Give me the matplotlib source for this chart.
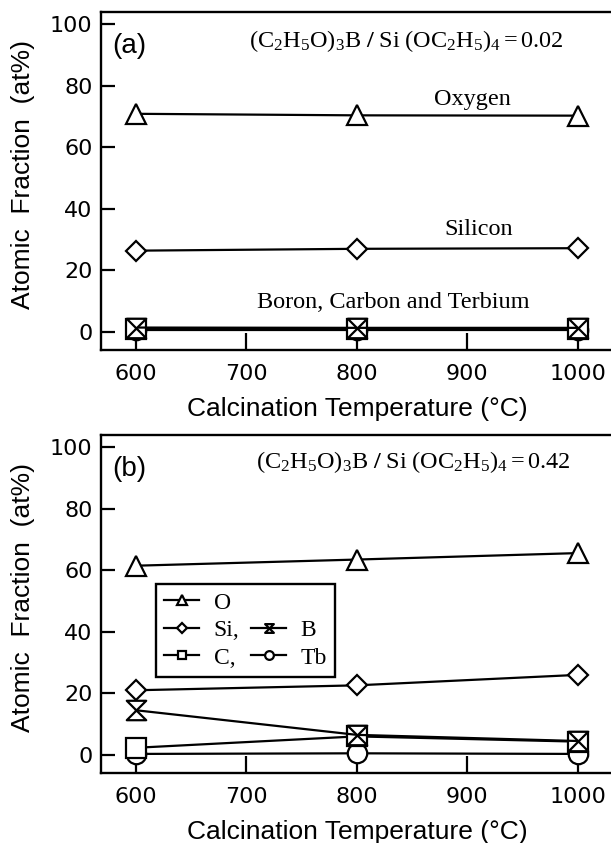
import matplotlib
matplotlib.use("Agg")
import matplotlib.pyplot as plt
from matplotlib.path import Path
from matplotlib.lines import Line2D

plt.rcParams['mathtext.fontset'] = 'custom'
plt.rcParams['mathtext.rm'] = 'Liberation Serif'
plt.rcParams['mathtext.it'] = 'Liberation Serif:italic'
plt.rcParams['mathtext.bf'] = 'Liberation Serif:bold'

# Calcination temperatures (°C)
temps = [600, 800, 1000]

# Panel (a): borate / TEOS ratio 0.02, atomic fractions (at%)
a_oxygen = [70.8, 70.3, 70.2]
a_silicon = [26.3, 26.9, 27.1]
a_boron = [1.3, 1.2, 1.2]
a_carbon = [0.9, 0.9, 0.9]
a_terbium = [0.5, 0.5, 0.5]

# Panel (b): borate / TEOS ratio 0.42, atomic fractions (at%)
b_oxygen = [61.5, 63.5, 65.6]
b_silicon = [21.0, 22.6, 26.0]
b_boron = [14.5, 6.5, 4.5]
b_carbon = [2.3, 6.0, 4.3]
b_terbium = [0.3, 0.5, 0.3]

x_ticks = [600, 700, 800, 900, 1000]
y_ticks = [0, 20, 40, 60, 80, 100]

ratio_a = r"$\mathrm{(C_2H_5O)_3B}\ \mathbf{/}\ \mathrm{Si\ (OC_2H_5)_4{=}0.02}$"
ratio_b = r"$\mathrm{(C_2H_5O)_3B}\ \mathbf{/}\ \mathrm{Si\ (OC_2H_5)_4{=}0.42}$"

# hourglass marker: two triangles meeting at the centre
hourglass = Path([(-1, 1), (1, 1), (-1, -1), (1, -1), (-1, 1)],
                 [Path.MOVETO, Path.LINETO, Path.LINETO, Path.LINETO, Path.CLOSEPOLY])

SANS = 'Liberation Sans'
SERIF = 'Liberation Serif'
W, H = 611, 843

fig = plt.figure(figsize=(W / 100, H / 100), dpi=100)

style = dict(color='k', lw=1.6, mfc='white', mec='k', mew=1.6, zorder=3, clip_on=False)


def series(ax, o, si, tb, c, b):
    lines = {}
    lines['O'] = ax.plot(temps, o, marker='^', ms=14.5, **style)[0]
    lines['Si'] = ax.plot(temps, si, marker='D', ms=10.2, **style)[0]
    lines['Tb'] = ax.plot(temps, tb, marker='o', ms=14, **style)[0]
    lines['C'] = ax.plot(temps, c, marker='s', ms=14, **style)[0]
    lines['B'] = ax.plot(temps, b, marker=hourglass, ms=14, **style)[0]
    return lines


def frame(ax):
    ax.set_xlim(568.3, 1031.2)
    ax.set_ylim(-6, 104)
    ax.set_xticks(x_ticks)
    ax.set_yticks(y_ticks)
    ax.spines['right'].set_visible(False)
    for s in ('top', 'left', 'bottom'):
        ax.spines[s].set_linewidth(1.7)
    ax.tick_params(axis='x', direction='in', length=12, width=1.6, pad=10,
                   labelsize=16, top=False)
    ax.tick_params(axis='y', direction='in', length=10, width=1.6, pad=6,
                   labelsize=16, right=False)
    for lab in ax.get_xticklabels() + ax.get_yticklabels():
        lab.set_fontfamily('DejaVu Sans')
    ax.set_xlabel('Calcination Temperature (°C)', fontsize=19, fontfamily=SANS)
    ax.xaxis.label.set_va('center')
    ax.xaxis.set_label_coords(0.501, -0.174)
    ax.set_ylabel('Atomic  Fraction  (at%)', fontsize=19, fontfamily=SANS)
    ax.yaxis.label.set_va('center')
    ax.yaxis.set_label_coords(-0.1526, 0.52)


ax_a = fig.add_axes([101 / W, 1 - 350 / H, 511 / W, 338.3 / H])
ax_b = fig.add_axes([101 / W, 1 - 773.3 / H, 511 / W, 338.3 / H])

# ---- panel (a)
frame(ax_a)
series(ax_a, a_oxygen, a_silicon, a_terbium, a_carbon, a_boron)
ax_a.text(0.022, 0.90, '(a)', transform=ax_a.transAxes, fontsize=20,
          fontfamily=SANS, ha='left', va='center')
ax_a.text(0.598, 0.912, ratio_a, transform=ax_a.transAxes, fontsize=17.5,
          ha='center', va='center')
ax_a.text(905, 75.3, 'Oxygen', fontsize=17.5, fontfamily=SERIF, ha='center', va='center')
ax_a.text(910, 33.2, 'Silicon', fontsize=17.5, fontfamily=SERIF, ha='center', va='center')
ax_a.text(833, 9.3, 'Boron, Carbon and Terbium', fontsize=17.5, fontfamily=SERIF,
          ha='center', va='center')

# ---- panel (b)
frame(ax_b)
lb = series(ax_b, b_oxygen, b_silicon, b_terbium, b_carbon, b_boron)
ax_b.text(0.022, 0.90, '(b)', transform=ax_b.transAxes, fontsize=20,
          fontfamily=SANS, ha='left', va='center')
ax_b.text(0.612, 0.921, ratio_b, transform=ax_b.transAxes, fontsize=17.5,
          ha='center', va='center')

blank = Line2D([], [], alpha=0)
leg = ax_b.legend([lb['O'], lb['Si'], lb['C'], blank, lb['B'], lb['Tb']],
                  ['O', 'Si,', 'C,', '', 'B', 'Tb'],
                  ncol=2, loc='upper left', bbox_to_anchor=(0.107, 0.56),
                  borderaxespad=0, markerscale=0.45, handlelength=1.5,
                  handletextpad=0.6, columnspacing=0.5, labelspacing=0.25,
                  borderpad=0.35, fancybox=False, framealpha=1,
                  prop={'family': SERIF, 'size': 17})
leg.get_frame().set_edgecolor('k')
leg.get_frame().set_linewidth(1.7)

fig.savefig('out.png', dpi=100)
